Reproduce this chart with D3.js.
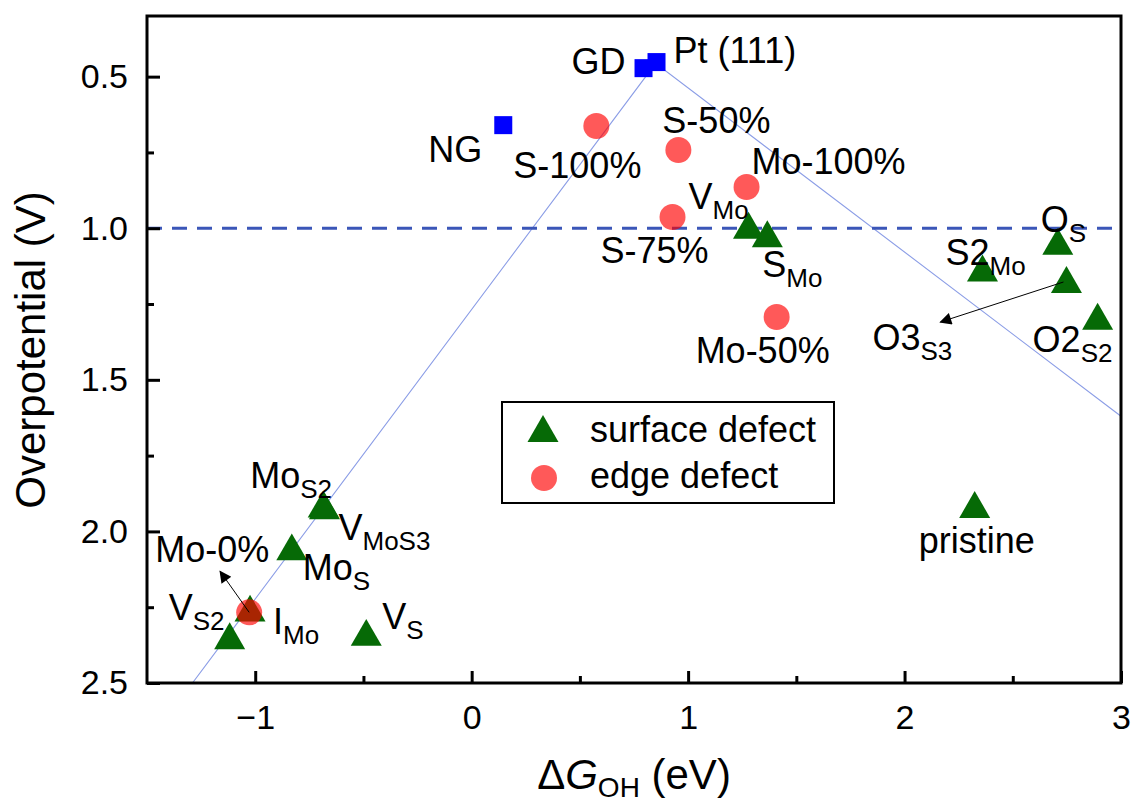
<!DOCTYPE html>
<html>
<head>
<meta charset="utf-8">
<script src="https://cdn.jsdelivr.net/npm/d3@7"></script>
<style>
  body { margin: 0; background: #fff; }
  svg { display: block; font-family: Arial, "Liberation Sans", sans-serif; }
</style>
</head>
<body>
<svg id="chart" width="1134" height="803"></svg>
<script>
// reference catalysts (blue squares)
const refNames = ["NG", "GD", "Pt (111)"];
const refX = [0.146, 0.794, 0.854];
const refY = [0.660, 0.472, 0.452];

// edge defects (red circles)
const edgeNames = ["S-100%", "S-50%", "Mo-100%", "S-75%", "Mo-50%", "Mo-0%"];
const edgeX = [0.576, 0.955, 1.270, 0.928, 1.409, -1.028];
const edgeY = [0.663, 0.742, 0.864, 0.963, 1.293, 2.267];

// surface defects (green triangles), "_" marks the subscript
const surfNames = ["V_Mo", "S_Mo", "O_S", "S2_Mo", "O3_S3", "O2_S2", "pristine",
                   "Mo_S2", "V_MoS3", "Mo_S", "I_Mo", "V_S2", "V_S"];
const surfX = [1.279, 1.366, 2.708, 2.360, 2.748, 2.892, 2.324,
               -0.686, -0.680, -0.831, -1.024, -1.118, -0.487];
const surfY = [1.005, 1.033, 1.058, 1.146, 1.184, 1.305, 1.926,
               1.925, 1.930, 2.066, 2.268, 2.359, 2.348];

// volcano lines
const volcanoX = [-1.29, 0.85, 3.0];
const volcanoY = [2.50, 0.456, 1.62];
const thresholdY = 1.0;

const xTicks = [-1, 0, 1, 2, 3];
const xMinor = [-0.5, 0.5, 1.5, 2.5];
const yTicks = [0.5, 1.0, 1.5, 2.0, 2.5];
const yMinor = [0.75, 1.25, 1.75, 2.25];

// label offsets in px from the marker: [dx, dy, anchor]
const labelPos = {
  "NG": [-21, 37, "end"], "GD": [-18, 6, "end"], "Pt (111)": [17, 1, "start"],
  "S-100%": [-83, 52], "S-50%": [-16, -17], "Mo-100%": [5, -13], "S-75%": [-72, 46],
  "Mo-50%": [-81, 46], "Mo-0%": [-94, -50],
  "V_Mo": [-60, -21], "S_Mo": [-5, 39], "O_S": [-17, -14], "S2_Mo": [-37, -7],
  "O3_S3": [-194, 66], "O2_S2": [-65, 31], "pristine": [-56, 44],
  "Mo_S2": [-73, -21], "V_MoS3": [14, 30], "Mo_S": [11, 29], "I_Mo": [23, 21],
  "V_S2": [-61, -20], "V_S": [16, -8]
};
// arrows: [name, from dx, from dy, to dx, to dy]
const arrows = [["Mo-0%", 0, 0, -29, -41], ["O3_S3", -3, -2, -126, 38]];

const margin = {left: 147, right: 13, top: 16, bottom: 120};
const W = 1134, H = 803;
const svg = d3.select("#chart");

const x = d3.scaleLinear().domain([-1.5, 3]).range([margin.left, W - margin.right]);
const y = d3.scaleLinear().domain([0.3, 2.5]).range([margin.top, H - margin.bottom]);

const green = "#066a06", red = "#ff0000", blue = "#0000ff";

svg.append("clipPath").attr("id", "clip").append("rect")
  .attr("x", x.range()[0]).attr("y", y.range()[0])
  .attr("width", x.range()[1] - x.range()[0]).attr("height", y.range()[1] - y.range()[0]);

const plot = svg.append("g").attr("clip-path", "url(#clip)");

// volcano
plot.append("path")
  .datum(volcanoX.map((v, i) => [v, volcanoY[i]]))
  .attr("d", d3.line().x(d => x(d[0])).y(d => y(d[1])))
  .attr("fill", "none").attr("stroke", "#8b9de6").attr("stroke-width", 1.1);

// threshold
plot.append("line")
  .attr("x1", x(-1.5)).attr("x2", x(3)).attr("y1", y(thresholdY)).attr("y2", y(thresholdY))
  .attr("stroke", "#3b56b8").attr("stroke-width", 3.2).attr("stroke-dasharray", "15,10");

// arrow marker
svg.append("defs").append("marker")
  .attr("id", "ah").attr("viewBox", "0 0 10 10").attr("refX", 9).attr("refY", 5)
  .attr("markerWidth", 14).attr("markerHeight", 12).attr("markerUnits", "userSpaceOnUse")
  .attr("orient", "auto")
  .append("path").attr("d", "M0,0L10,5L0,10Z").attr("fill", "#000");

const tri = d3.symbol(d3.symbolTriangle, 416);

const surf = surfNames.map((n, i) => ({n, x: surfX[i], y: surfY[i]}));
const edge = edgeNames.map((n, i) => ({n, x: edgeX[i], y: edgeY[i]}));
const refs = refNames.map((n, i) => ({n, x: refX[i], y: refY[i]}));
const all = surf.concat(edge, refs);

plot.selectAll(".tri").data(surf).enter().append("path")
  .attr("class", "tri").attr("d", tri)
  .attr("transform", d => `translate(${x(d.x)},${y(d.y)})`)
  .attr("fill", green);

plot.selectAll(".edge").data(edge).enter().append("circle")
  .attr("class", "edge").attr("cx", d => x(d.x)).attr("cy", d => y(d.y)).attr("r", 13)
  .attr("fill", red).attr("fill-opacity", 0.65);

plot.selectAll(".ref").data(refs).enter().append("rect")
  .attr("class", "ref")
  .attr("x", d => x(d.x) - 9).attr("y", d => y(d.y) - 9).attr("width", 18).attr("height", 18)
  .attr("fill", blue);

arrows.forEach(a => {
  const d = all.find(p => p.n === a[0]);
  svg.append("line")
    .attr("x1", x(d.x) + a[1]).attr("y1", y(d.y) + a[2])
    .attr("x2", x(d.x) + a[3]).attr("y2", y(d.y) + a[4])
    .attr("stroke", "#000").attr("stroke-width", 1)
    .attr("marker-end", "url(#ah)");
});

// labels
all.forEach(d => {
  const p = labelPos[d.n];
  const parts = d.n.split("_");
  const t = svg.append("text")
    .attr("x", x(d.x) + p[0]).attr("y", y(d.y) + p[1])
    .attr("text-anchor", p[2] || "start")
    .attr("font-size", 36).attr("fill", "#000");
  t.append("tspan").text(parts[0]);
  if (parts[1]) t.append("tspan").attr("dy", 10).attr("font-size", 26).text(parts[1]);
});

// axes
svg.append("g").attr("transform", `translate(0,${y.range()[1]})`)
  .call(d3.axisBottom(x).tickValues(xTicks).tickSizeInner(-12).tickSizeOuter(0).tickPadding(22)
    .tickFormat(d3.format("d")));
svg.append("g").attr("transform", `translate(0,${y.range()[1]})`)
  .call(d3.axisBottom(x).tickValues(xMinor).tickSizeInner(-7).tickSizeOuter(0).tickFormat(""));
svg.append("g").attr("transform", `translate(${x.range()[0]},0)`)
  .call(d3.axisLeft(y).tickValues(yTicks).tickSizeInner(-13).tickSizeOuter(0).tickPadding(19)
    .tickFormat(d3.format(".1f")));
svg.append("g").attr("transform", `translate(${x.range()[0]},0)`)
  .call(d3.axisLeft(y).tickValues(yMinor).tickSizeInner(-7).tickSizeOuter(0).tickFormat(""));

svg.selectAll(".domain").remove();
svg.selectAll(".tick line").attr("stroke", "#000").attr("stroke-width", 3);
svg.selectAll(".tick text").attr("font-size", 34).attr("fill", "#000")
  .attr("font-family", "Arial, 'Liberation Sans', sans-serif");

// frame
svg.append("rect")
  .attr("x", x.range()[0]).attr("y", y.range()[0])
  .attr("width", x.range()[1] - x.range()[0]).attr("height", y.range()[1] - y.range()[0])
  .attr("fill", "none").attr("stroke", "#000").attr("stroke-width", 3);

// legend
const lg = svg.append("g").attr("transform", "translate(502,402)");
lg.append("rect").attr("width", 332).attr("height", 101)
  .attr("fill", "#fff").attr("stroke", "#000").attr("stroke-width", 2);
lg.append("path").attr("d", tri).attr("transform", "translate(41,31)").attr("fill", green);
lg.append("circle").attr("cx", 42).attr("cy", 76).attr("r", 13).attr("fill", red).attr("fill-opacity", 0.65);
lg.append("text").attr("x", 88).attr("y", 40).attr("font-size", 36).text("surface defect");
lg.append("text").attr("x", 88).attr("y", 86).attr("font-size", 36).text("edge defect");

// axis titles
const xt = svg.append("text").attr("x", 634).attr("y", 789).attr("text-anchor", "middle")
  .attr("font-size", 42);
xt.append("tspan").text("\u0394");
xt.append("tspan").attr("font-style", "italic").text("G");
xt.append("tspan").attr("dy", 8).attr("font-size", 28).text("OH");
xt.append("tspan").attr("dy", -8).text(" (eV)");

svg.append("text").attr("transform", "translate(45,350) rotate(-90)")
  .attr("text-anchor", "middle").attr("font-size", 42).text("Overpotential (V)");
</script>
</body>
</html>
